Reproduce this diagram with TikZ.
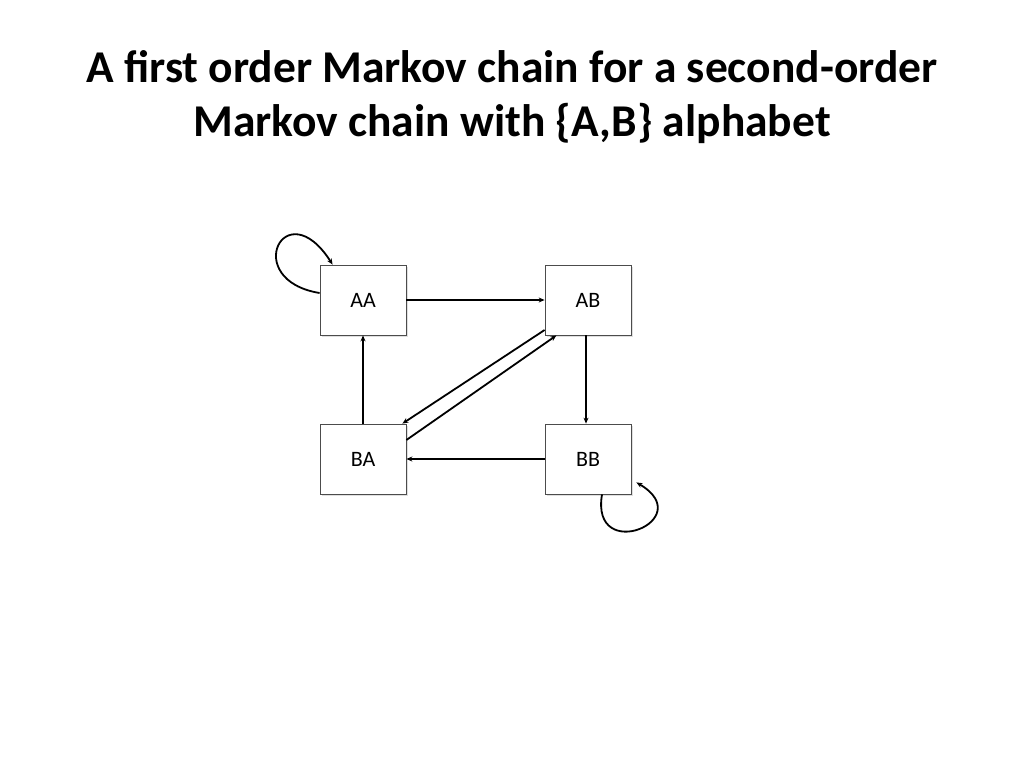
\documentclass[tikz,border=0pt]{standalone}
\usepackage{fontspec}
\setmainfont{Carlito}
\usetikzlibrary{arrows.meta,shadows}
\begin{document}
\begin{tikzpicture}[x=1pt,y=-1pt,
  st/.style={draw=black!70,line width=0.8pt,fill=white,minimum width=86pt,minimum height=70pt,inner sep=0pt,font=\fontsize{22}{24}\selectfont,
    drop shadow={opacity=0.25,shadow xshift=2pt,shadow yshift=-2pt}},
  ed/.style={line width=1.8pt,-{Stealth[length=6pt,width=5pt]}}]
\useasboundingbox (0,0) rectangle (1024,768);
\node[font=\bfseries\fontsize{45.5}{54}\selectfont,align=center] (t) at (512,97) {A first order Markov chain for a second-order\\Markov chain with \{A,B\} alphabet};
\node[st] (aa) at (363,300) {AA};
\node[st] (ab) at (588,300) {AB};
\node[st] (ba) at (363,459) {BA};
\node[st] (bb) at (588,459) {BB};
\draw[ed] (aa) -- (ab);
\draw[ed] (ab.south) ++(-2,0) coordinate (abs) (abs) -- (abs |- bb.north);
\draw[ed] (bb) -- (ba);
\draw[ed] (ba) -- (aa);
\draw[ed] ([yshift=-30pt]ab.west) -- ([xshift=-4pt]ba.north east);
\draw[ed] ([yshift=19pt]ba.east) -- ([xshift=-75pt]ab.south east);
\draw[ed] ([yshift=7pt]aa.west) .. controls (240,280) and (285,190) .. ([xshift=13pt]aa.north west);
\draw[ed] ([xshift=14pt]bb.south) .. controls (590,565) and (700,520) .. ([xshift=5pt,yshift=12pt]bb.south east);
\end{tikzpicture}
\end{document}
